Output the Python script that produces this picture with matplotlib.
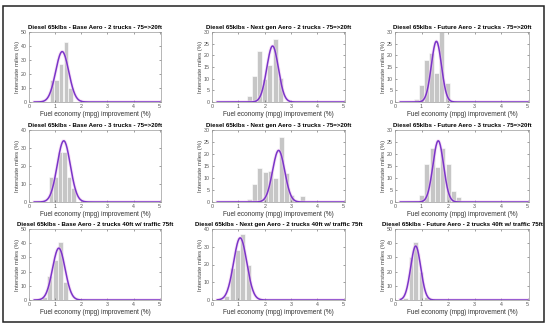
import numpy as np
import matplotlib
matplotlib.use("Agg")
import matplotlib.pyplot as plt

plt.rcParams['font.family'] = ['Liberation Sans', 'DejaVu Sans']

titles = [
    "Diesel 65klbs - Base Aero - 2 trucks - 75=>20ft",
    "Diesel 65klbs - Next gen Aero - 2 trucks - 75=>20ft",
    "Diesel 65klbs - Future Aero - 2 trucks - 75=>20ft",
    "Diesel 65klbs - Base Aero - 3 trucks - 75=>20ft",
    "Diesel 65klbs - Next gen Aero - 3 trucks - 75=>20ft",
    "Diesel 65klbs - Future Aero - 3 trucks - 75=>20ft",
    "Diesel 65klbs - Base Aero - 2 trucks 40ft w/ traffic 75ft",
    "Diesel 65klbs - Next gen Aero - 2 trucks 40ft w/ traffic 75ft",
    "Diesel 65klbs - Future Aero - 2 trucks 40ft w/ traffic 75ft",
]

# histogram bins (centre, %) for each panel
bin_centers = [
    [0.87, 1.05, 1.23, 1.41, 1.58],
    [1.42, 1.61, 1.80, 2.00, 2.20, 2.40, 2.60],
    [0.80, 0.99, 1.18, 1.37, 1.56, 1.77, 1.97],
    [0.85, 1.02, 1.19, 1.36, 1.53, 1.70],
    [1.42, 1.62, 1.82, 2.02, 2.22, 2.42, 2.62, 2.82, 3.02, 3.42],
    [1.00, 1.20, 1.40, 1.60, 1.80, 2.00, 2.20, 2.40],
    [0.60, 0.80, 1.00, 1.20, 1.40],
    [0.56, 0.76, 0.96, 1.17, 1.37],
    [0.40, 0.60, 0.78, 0.98, 1.18],
]
bin_heights = [
    [16, 16, 27, 43, 10],
    [2.7, 11, 22, 10, 16, 27, 10.5],
    [1.5, 7.4, 18, 21, 12.3, 30, 8],
    [14, 14, 28, 28, 14, 8],
    [1.4, 7.5, 14, 12.5, 13, 10, 27, 12, 3, 2.3],
    [3, 15.8, 22.5, 14.4, 22.5, 16, 4.5, 2],
    [2, 17, 28, 40.5, 13],
    [2, 18, 28, 37, 20],
    [1.5, 30, 41, 20, 2],
]
bin_widths = [0.17, 0.19, 0.19, 0.17, 0.19, 0.19, 0.19, 0.19, 0.18]

# normal fit: mean, std, peak height
fit_mean = [1.27, 2.30, 1.56, 1.33, 2.53, 1.63, 1.14, 1.07, 0.78]
fit_std = [0.25, 0.22, 0.19, 0.25, 0.23, 0.20, 0.24, 0.25, 0.19]
fit_peak = [36, 24, 26, 34, 21.5, 25.5, 36.5, 35, 38]

y_max = [50, 30, 30, 40, 30, 30, 50, 40, 50]
y_step = [10, 5, 5, 10, 5, 5, 10, 10, 10]

fig = plt.figure(figsize=(5.5, 3.28), dpi=100)
W, H = 550, 328

col_x = [(29, 161), (212, 345), (395, 529)]
row_y = [(32, 102), (130, 202), (229, 300)]

for i in range(9):
    r, c = divmod(i, 3)
    x0, x1 = col_x[c]
    y0, y1 = row_y[r]
    ax = fig.add_axes([x0 / W, 1 - y1 / H, (x1 - x0) / W, (y1 - y0) / H])

    ax.bar(bin_centers[i], bin_heights[i], width=bin_widths[i],
           color="#c6c6c6", edgecolor="white", linewidth=0.4)

    xs = np.linspace(0.2, 5, 300)
    ys = fit_peak[i] * np.exp(-0.5 * ((xs - fit_mean[i]) / fit_std[i]) ** 2)
    ax.plot(xs, ys, color="#f3c6f0", lw=2.4, alpha=0.5)
    ax.plot(xs, ys, color="#7a35c8", lw=1.1)

    ax.set_xlim(0, 5.05)
    ax.set_ylim(0, y_max[i])
    ax.set_xticks([0, 1, 2, 3, 4, 5])
    ax.set_yticks(np.arange(0, y_max[i] + 1, y_step[i]))
    ax.tick_params(direction="in", length=1.5, width=0.4, labelsize=3.8,
                   colors="#555555", pad=1.5, top=True, right=True)
    for s in ax.spines.values():
        s.set_color("#9a9a9a")
        s.set_linewidth(0.5)
    ax.set_title(titles[i], fontsize=4.4, fontweight="bold", pad=2)
    ax.set_xlabel("Fuel economy (mpg) improvement (%)", fontsize=4.7,
                  color="#333333", labelpad=1.5)
    ax.set_ylabel("Interstate miles (%)", fontsize=4.3, color="#444444",
                  labelpad=1)

# outer frame
frame = plt.Rectangle((3 / W, 1 - 322 / H), 541 / W, 316 / H,
                      transform=fig.transFigure, fill=False,
                      edgecolor="#222222", linewidth=1.1)
fig.patches.append(frame)

fig.savefig("out.png", dpi=100)
